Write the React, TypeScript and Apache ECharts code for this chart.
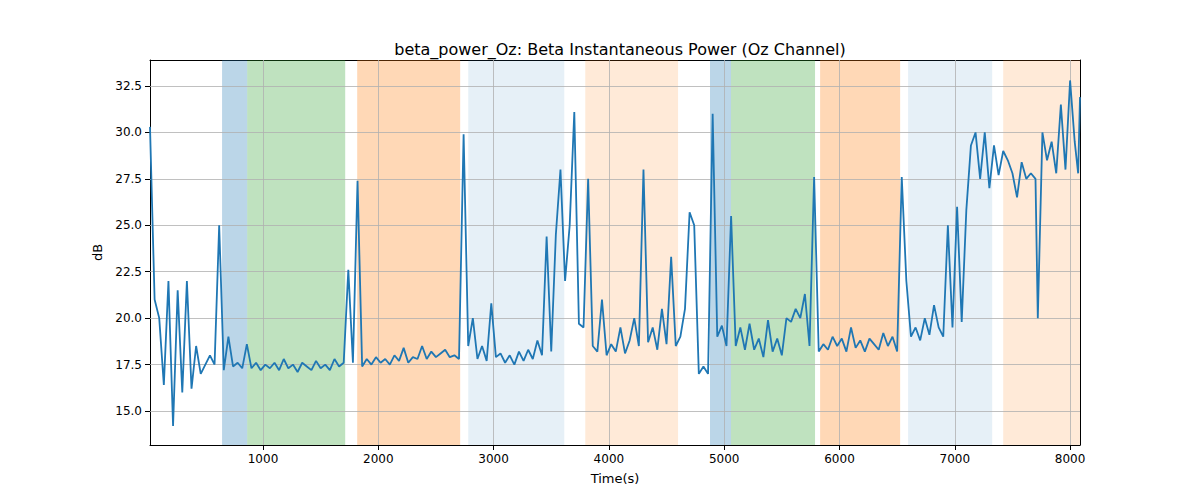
import React, { useRef, useEffect } from 'react'
import * as echarts from 'echarts'

const timeVals = [20,60,100,140,180,220,260,300,340,380,420,460,500,540,580,620,660,700,740,780,820,860,900,940,980,1020,1060,1100,1140,1180,1220,1260,1300,1340,1380,1420,1460,1500,1540,1580,1620,1660,1700,1740,1780,1820,1860,1900,1940,1980,2020,2060,2100,2140,2180,2220,2260,2300,2340,2380,2420,2460,2500,2540,2580,2620,2660,2700,2740,2780,2820,2860,2900,2940,2980,3020,3060,3100,3140,3180,3220,3260,3300,3340,3380,3420,3460,3500,3540,3580,3620,3660,3700,3740,3780,3820,3860,3900,3940,3980,4020,4060,4100,4140,4180,4220,4260,4300,4340,4380,4420,4460,4500,4540,4580,4620,4660,4700,4740,4780,4820,4860,4900,4940,4980,5020,5060,5100,5140,5180,5220,5260,5300,5340,5380,5420,5460,5500,5540,5580,5620,5660,5700,5740,5780,5820,5860,5900,5940,5980,6020,6060,6100,6140,6180,6220,6260,6300,6340,6380,6420,6460,6500,6540,6580,6620,6660,6700,6740,6780,6820,6860,6900,6940,6980,7020,7060,7100,7140,7180,7220,7260,7300,7340,7380,7420,7460,7500,7540,7580,7620,7660,7700,7720,7760,7800,7840,7880,7920,7960,8000,8040,8070,8086]
const dbVals = [30.3,21,20,16.4,22,14.2,21.5,16,22,16.2,18.5,17,17.5,18,17.5,25,17.2,19,17.4,17.6,17.3,18.6,17.3,17.6,17.2,17.5,17.3,17.6,17.2,17.8,17.3,17.5,17.1,17.6,17.4,17.2,17.7,17.3,17.5,17.2,17.8,17.4,17.6,22.6,17.6,27.4,17.4,17.8,17.5,17.9,17.6,17.8,17.5,18,17.7,18.4,17.6,17.9,17.8,18.5,17.8,18.2,17.9,18.1,18.3,17.9,18,17.8,29.9,18.5,20,17.8,18.5,17.7,20.8,17.9,18.1,17.6,18,17.5,18.2,17.7,18.3,17.8,18.8,18,24.4,18.2,24.5,28,22,25,31.1,19.7,19.5,27.5,18.5,18.2,21,18,18.6,18.2,19.5,18.1,18.8,20,18.5,28,18.7,19.5,18.3,20.5,18.6,23.3,18.5,19,20.5,25.7,25,17,17.4,17,31,19,19.6,18.5,25.5,18.5,19.5,18.3,19.7,18.3,18.9,17.9,19.9,18.2,18.9,18,20,19.8,20.5,20,21.3,18.5,27.6,18.2,18.6,18.3,19,18.5,18.9,18.2,19.5,18.4,18.8,18.2,18.9,18.6,18.3,19.2,18.5,19,18.2,27.6,22,19,19.5,18.8,20,19.1,20.7,19.5,19,25,19.5,26,19.8,25.8,29.3,30,27.5,30,27,29.3,27.7,29,28.5,27.8,26.5,28.4,27.5,27.8,27.5,20,30,28.5,29.5,27.8,31.5,28,32.8,29.5,27.8,31.9,29.7]

const spanRanges = [[645,863],[863,1713],[1817,2710],[2780,3613],[3795,4600],[4877,5059],[5059,5788],[5832,6526],[6595,7324],[7420,8086]]
const spanColors = ['rgba(31,119,180,0.3)','rgba(44,160,44,0.3)','rgba(255,127,14,0.3)','rgba(31,119,180,0.11)','rgba(255,127,14,0.16)','rgba(31,119,180,0.3)','rgba(44,160,44,0.3)','rgba(255,127,14,0.3)','rgba(31,119,180,0.11)','rgba(255,127,14,0.16)']
const xTicks = [1000,2000,3000,4000,5000,6000,7000,8000]
const yTicks = [15,17.5,20,22.5,25,27.5,30,32.5]

export default function App() {
  const ref = useRef<HTMLDivElement>(null)
  useEffect(() => {
    document.body.style.margin = '0'
    if (!ref.current) return
    const chart = echarts.init(ref.current, null, { renderer: 'svg' })
    const font = 'DejaVu Sans'
    const gridStyle = { color: '#b0b0b0', width: 0.8, type: 'solid' as const }
    const frameAxis = { type: 'value', axisLine: { show: true, onZero: false, lineStyle: { color: '#000' } }, axisTick: { show: false }, axisLabel: { show: false }, splitLine: { show: false } }
    chart.setOption({
      animation: false,
      textStyle: { fontFamily: font },
      title: { text: 'beta_power_Oz: Beta Instantaneous Power (Oz Channel)', left: 615, top: 36, textAlign: 'center', textStyle: { fontSize: 16, fontWeight: 'normal', color: '#000', fontFamily: font } },
      grid: { left: 150, right: 120, top: 60, bottom: 55 },
      xAxis: [{
        type: 'value', min: 20, max: 8086,
        name: 'Time(s)', nameLocation: 'middle', nameGap: 27, nameTextStyle: { fontSize: 13, color: '#000' },
        axisLine: { onZero: false, lineStyle: { color: '#000' } },
        axisTick: { customValues: xTicks, lineStyle: { color: '#000' } },
        axisLabel: { customValues: xTicks, color: '#000', fontSize: 12, formatter: (v: number) => String(v) },
        splitLine: { show: false },
      }, { ...frameAxis, position: 'top', min: 20, max: 8086 }],
      yAxis: [{
        type: 'value', min: 13.17, max: 33.9,
        name: 'dB', nameLocation: 'middle', nameGap: 45, nameTextStyle: { fontSize: 13, color: '#000' },
        axisLine: { show: true, onZero: false, lineStyle: { color: '#000' } },
        axisTick: { show: true, customValues: yTicks, lineStyle: { color: '#000' } },
        axisLabel: { customValues: yTicks, color: '#000', fontSize: 12, formatter: (v: number) => v.toFixed(1) },
        splitLine: { show: false },
      }, { ...frameAxis, position: 'right', min: 13.17, max: 33.9 }],
      series: [
        {
          type: 'line', data: [], silent: true,
          markArea: { silent: true, data: spanRanges.map((r, i) => [{ xAxis: r[0], itemStyle: { color: spanColors[i] } }, { xAxis: r[1] }]) },
          markLine: {
            silent: true, symbol: 'none', label: { show: false }, lineStyle: gridStyle,
            data: [...xTicks.map(v => ({ xAxis: v })), ...yTicks.map(v => ({ yAxis: v }))],
          },
        },
        {
          type: 'line', data: timeVals.map((t, i) => [t, dbVals[i]]), showSymbol: false,
          lineStyle: { color: '#1f77b4', width: 1.8 }, z: 5,
        },
      ],
    })
    return () => chart.dispose()
  }, [])
  return <div ref={ref} style={{ width: 1200, height: 500 }} />
}
